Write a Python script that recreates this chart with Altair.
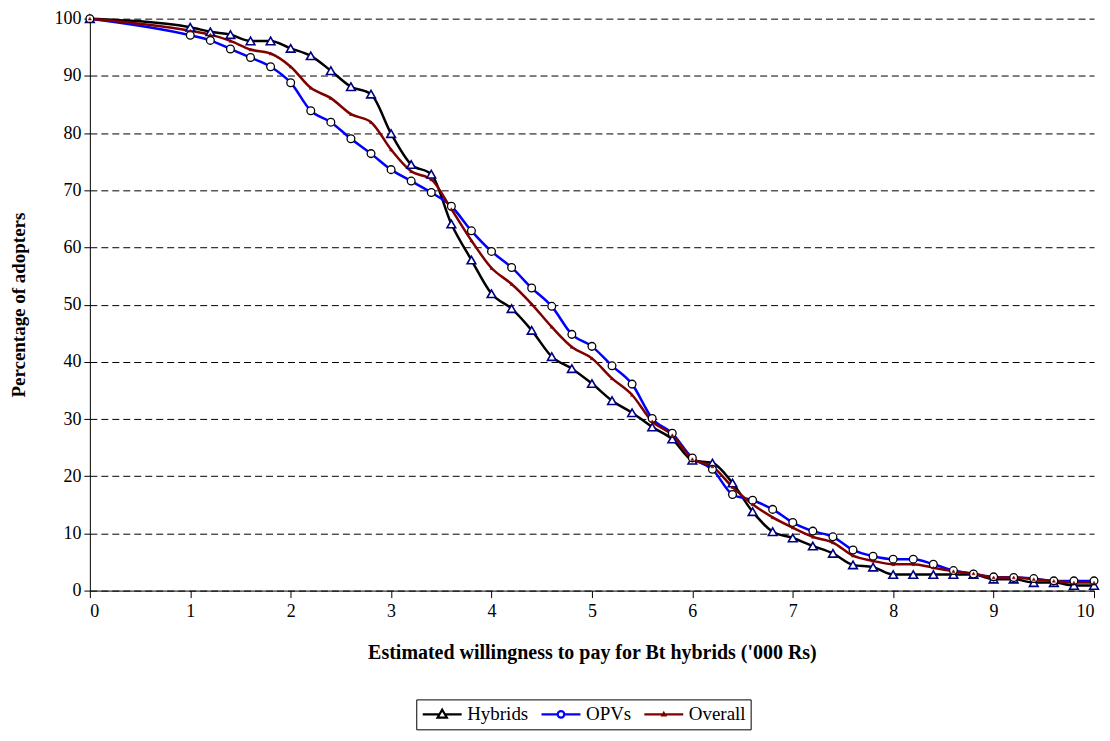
import altair as alt
import pandas as pd

x_vals = [0, 1.0, 1.2, 1.4, 1.6, 1.8, 2.0, 2.2, 2.4, 2.6, 2.8, 3.0, 3.2, 3.4, 3.6, 3.8,
          4.0, 4.2, 4.4, 4.6, 4.8, 5.0, 5.2, 5.4, 5.6, 5.8, 6.0, 6.2, 6.4, 6.6, 6.8,
          7.0, 7.2, 7.4, 7.6, 7.8, 8.0, 8.2, 8.4, 8.6, 8.8, 9.0, 9.2, 9.4, 9.6, 9.8, 10.0]

hybrids = [100, 98.5, 97.7, 97.2, 96.1, 96.1, 94.8, 93.5, 90.9, 88.1, 86.8, 79.9, 74.5, 72.8,
           64.1, 57.8, 51.9, 49.3, 45.5, 40.9, 38.8, 36.2, 33.2, 31.1, 28.6, 26.5, 22.8, 22.3,
           18.8, 13.8, 10.3, 9.2, 7.8, 6.5, 4.5, 4.1, 2.8, 2.8, 2.8, 2.8, 2.8, 2.0, 2.0, 1.4,
           1.4, 0.9, 0.9]

opvs = [100, 97.1, 96.2, 94.7, 93.2, 91.6, 88.8, 83.9, 81.9, 79.0, 76.4, 73.6, 71.6, 69.6,
        67.2, 62.9, 59.3, 56.5, 52.9, 49.7, 44.8, 42.7, 39.3, 36.1, 30.1, 27.5, 23.2, 21.2,
        16.8, 15.8, 14.2, 11.9, 10.4, 9.4, 7.1, 6.0, 5.5, 5.5, 4.6, 3.5, 2.9, 2.4, 2.3, 2.1,
        1.7, 1.7, 1.7]

overall = [100, 97.9, 97.2, 96.1, 94.6, 93.9, 91.6, 87.9, 86.1, 83.3, 81.9, 77.1, 73.3, 71.9,
           66.7, 61.2, 56.4, 53.6, 50.1, 46.1, 42.6, 40.6, 37.1, 34.2, 29.6, 27.2, 23.0, 21.7,
           18.1, 15.1, 12.8, 11.0, 9.4, 8.4, 6.1, 5.2, 4.6, 4.6, 4.0, 3.4, 3.0, 2.3, 2.3, 2.0,
           1.7, 1.4, 1.4]

series_names = ["Hybrids", "OPVs", "Overall"]
line_colors = ["#000000", "#0000FF", "#800000"]

rows = []
for name, vals in zip(series_names, [hybrids, opvs, overall]):
    for i, (xv, yv) in enumerate(zip(x_vals, vals)):
        rows.append({"x": xv, "y": yv, "series": name, "order": i})
df = pd.DataFrame(rows)

FONT = "Liberation Serif"

xenc = alt.X("x:Q", scale=alt.Scale(domain=[0, 10], nice=False),
             axis=alt.Axis(title="Estimated willingness to pay for Bt hybrids ('000 Rs)",
                           values=list(range(0, 11)), grid=False, tickSize=7,
                           labelPadding=5, titlePadding=22, format="d"))
yenc = alt.Y("y:Q", scale=alt.Scale(domain=[0, 100], nice=False),
             axis=alt.Axis(title="Percentage of adopters", values=list(range(0, 101, 10)),
                           grid=True, gridDash=[7, 4], gridColor="#000000", gridWidth=1,
                           tickSize=6, labelPadding=3, titlePadding=25, titleFontSize=19))

base = alt.Chart(df)


def series_line(name, color):
    return base.transform_filter(alt.datum.series == name).mark_line(
        interpolate="monotone", strokeWidth=2.5, color=color).encode(
        x=xenc, y=yenc, order="order:Q")


line_h = series_line("Hybrids", line_colors[0])
line_o = series_line("OPVs", line_colors[1])
line_a = series_line("Overall", line_colors[2])

hyb_pts = base.transform_filter(alt.datum.series == "Hybrids").mark_point(
    shape="triangle-up", filled=True, fill="white", stroke="#000080",
    strokeWidth=1.6, size=75, opacity=1).encode(x="x:Q", y="y:Q")

opv_pts = base.transform_filter(alt.datum.series == "OPVs").mark_point(
    shape="circle", filled=True, fill="white", stroke="#000000",
    strokeWidth=1.3, size=60, opacity=1).encode(x="x:Q", y="y:Q")

ovr_pts = base.transform_filter(alt.datum.series == "Overall").mark_point(
    shape="triangle-up", filled=True, fill="#800000", stroke="#800000",
    strokeWidth=0.5, size=10, opacity=1).encode(x="x:Q", y="y:Q")

legend_shapes = [
    "M-1,0H-0.14M0.14,0H1M0,-0.24L0.24,0.17L-0.24,0.17Z",
    "M-1,0H-0.17M0.17,0H1M-0.17,0A0.17,0.17 0 1,0 0.17,0A0.17,0.17 0 1,0 -0.17,0Z",
    "M-1,0H1M0,-0.07L0.07,0.05L-0.07,0.05Z",
]

legend_layer = base.mark_point(opacity=0, filled=False).encode(
    x="x:Q", y="y:Q",
    color=alt.Color("series:N", scale=alt.Scale(domain=series_names, range=line_colors),
                    legend=alt.Legend(title=None, orient="none", direction="horizontal",
                                      legendX=327, legendY=682,
                                      symbolSize=1521, symbolOpacity=1,
                                      symbolStrokeWidth=2.2, clipHeight=20,
                                      labelFont=FONT, labelFontSize=19, labelColor="black",
                                      labelOffset=4, columnPadding=11,
                                      padding=5, strokeColor="black", fillColor="white")),
    shape=alt.Shape("series:N", scale=alt.Scale(domain=series_names, range=legend_shapes)),
)

chart = alt.layer(line_h, line_o, line_a, hyb_pts, opv_pts, ovr_pts, legend_layer).properties(
    width=1006, height=573,
    autosize=alt.AutoSizeParams(type="none"),
    padding={"left": 82, "top": 10, "right": 8, "bottom": 142},
    background="white",
).configure_view(strokeWidth=0).configure_axis(
    labelFont=FONT, titleFont=FONT, labelFontSize=18, titleFontSize=20,
    titleFontWeight="bold", labelColor="black", titleColor="black",
    domainColor="black", tickColor="black", domainWidth=1, tickWidth=1,
)

chart.save("out.html", embed_options={"renderer": "svg", "actions": False})
